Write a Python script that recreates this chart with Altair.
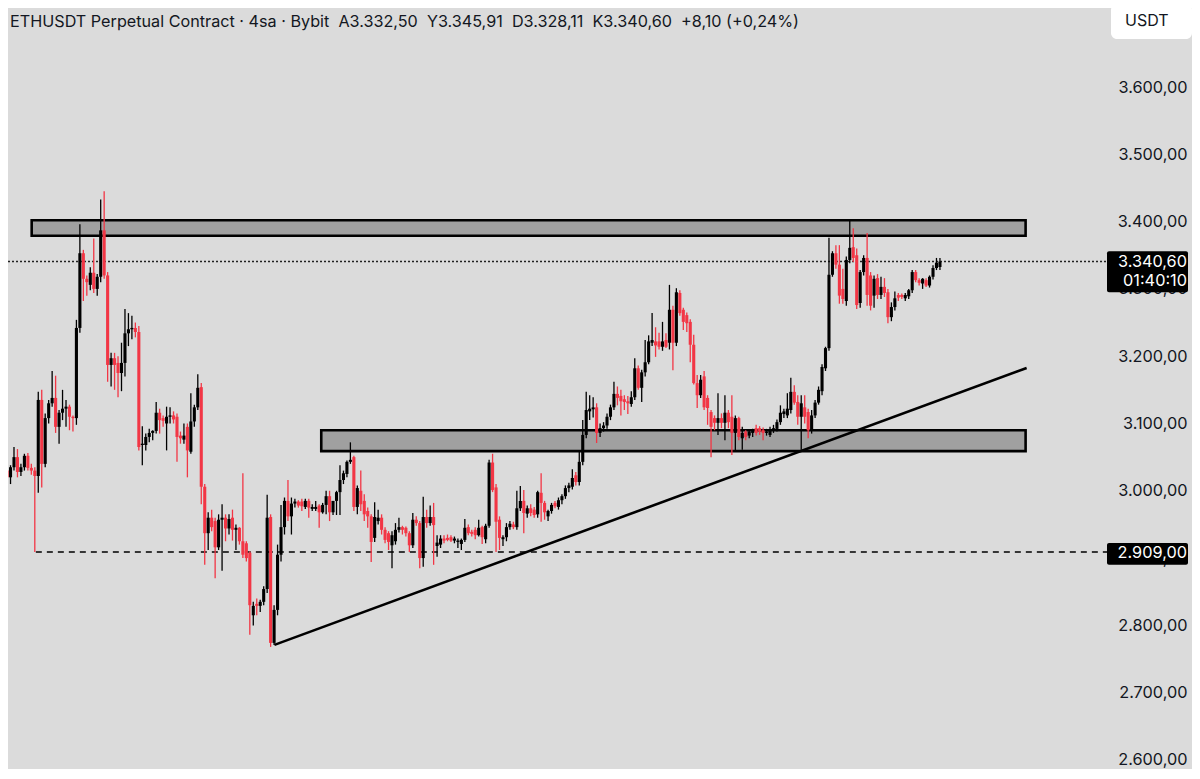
import altair as alt
import pandas as pd

# ---------------- data (4h candles, ETHUSDT) ----------------
open_ = [3030,3020,3035,3050,3028,3035,3052,3034,3030,3022,
         3135,3040,3108,3130,3138,3095,3116,3122,3125,3110,
         3108,3242,3353,3315,3306,3324,3300,3318,3387,3320,
         3187,3197,3190,3175,3190,3234,3240,3242,3236,3068,
         3068,3080,3086,3089,3116,3108,3100,3110,3112,3110,
         3082,3076,3095,3058,3103,3124,3154,3006,2937,2960,
         2955,2916,2957,2960,2944,2960,2942,2945,2925,2922,
         2908,2815,2832,2829,2835,2854,2961,2774,2823,2905,
         2946,2985,2962,2981,2984,2984,2976,2985,2974,2973,
         2978,2968,2979,2992,2968,2985,2998,3016,3025,3043,
         3050,2976,3000,2985,2970,2962,2930,2955,2960,2942,
         2937,2919,2925,2942,2946,2945,2937,2919,2957,2952,
         2900,2961,2952,2961,2918,2920,2929,2930,2931,2926,
         2924,2921,2927,2946,2939,2942,2934,2946,2928,2948,
         3042,3005,2957,2928,2931,2946,2950,2946,2974,2985,
         2966,2974,2972,2965,2997,2982,2962,2970,2982,2976,
         2986,2992,3004,3006,3023,3013,3043,3083,3118,3122,
         3124,3086,3093,3097,3110,3124,3144,3141,3136,3133,
         3129,3139,3182,3153,3176,3191,3220,3222,3222,3214,
         3224,3220,3269,3220,3294,3269,3261,3251,3217,3160,
         3142,3170,3138,3117,3108,3101,3108,3101,3116,3110,
         3086,3108,3078,3088,3082,3086,3093,3093,3090,3086,
         3083,3090,3092,3102,3114,3112,3120,3147,3132,3110,
         3124,3117,3090,3112,3131,3148,3182,3212,3321,3353,
         3336,3300,3282,3343,3362,3350,3279,3325,3346,3320,
         3290,3316,3291,3303,3295,3258,3273,3291,3291,3286,
         3289,3298,3325,3313,3308,3313,3305,3318,3331,3332.5]
high = [3040,3038,3065,3062,3040,3055,3056,3040,3035,3147,
        3150,3115,3135,3178,3171,3120,3150,3135,3128,3112,
        3254,3396,3358,3320,3332,3375,3322,3433,3445,3325,
        3205,3205,3200,3220,3270,3264,3260,3250,3245,3096,
        3085,3092,3090,3132,3122,3112,3125,3124,3118,3115,
        3088,3100,3100,3145,3128,3173,3160,3010,2968,2972,
        2960,2965,2980,2965,2965,2972,2950,2946,3026,2925,
        2910,2835,2840,2838,2858,2994,2965,2830,2920,2979,
        2990,3016,2990,2988,2986,2988,2988,2988,2980,2985,
        2980,2982,3000,3000,2985,3000,3038,3030,3045,3072,
        3052,3008,3030,2995,2975,2965,2983,2972,2965,2946,
        2940,2940,2952,2960,2948,2947,2940,2967,2962,2955,
        2991,2972,2978,2982,2934,2934,2934,2935,2934,2932,
        2929,2929,2958,2950,2942,2946,2957,2948,2951,3046,
        3055,3010,2962,2934,2952,2955,2954,3000,3007,3001,
        2978,2980,2976,3000,3026,2985,2972,2982,2985,2990,
        2995,3008,3012,3032,3028,3058,3105,3147,3142,3139,
        3130,3100,3102,3115,3128,3162,3155,3150,3142,3141,
        3148,3197,3186,3180,3224,3231,3264,3243,3235,3251,
        3234,3306,3275,3301,3298,3272,3265,3255,3232,3172,
        3172,3178,3142,3120,3112,3145,3115,3142,3120,3142,
        3112,3110,3095,3090,3090,3092,3098,3096,3094,3092,
        3095,3098,3106,3127,3122,3145,3168,3157,3142,3142,
        3142,3122,3120,3135,3155,3188,3214,3376,3356,3365,
        3365,3330,3348,3402,3390,3360,3328,3350,3383,3325,
        3320,3322,3318,3316,3300,3280,3296,3294,3293,3294,
        3300,3328,3328,3316,3316,3316,3320,3335,3346,3345.91]
low = [3015,3010,3030,3020,3022,3030,3030,3024,2909,2997,
       3005,3035,3100,3125,3086,3070,3105,3095,3090,3088,
       3098,3235,3282,3290,3298,3294,3290,3310,3315,3162,
       3155,3150,3139,3148,3170,3215,3225,3228,3060,3038,
       3060,3072,3075,3085,3085,3095,3060,3100,3100,3043,
       3070,3070,3020,3055,3095,3120,2980,2890,2912,2940,
       2870,2912,2881,2925,2935,2926,2912,2920,2900,2895,
       2786,2800,2815,2820,2830,2848,2768,2771,2815,2895,
       2935,2955,2935,2975,2975,2970,2973,2960,2970,2970,
       2945,2966,2965,2955,2964,2964,2964,3010,3020,3040,
       2970,2965,2970,2955,2945,2894,2924,2950,2935,2922,
       2912,2885,2920,2938,2935,2932,2909,2915,2948,2885,
       2887,2945,2948,2890,2902,2915,2922,2925,2924,2922,
       2915,2912,2924,2934,2932,2928,2932,2921,2922,2945,
       2998,2909,2912,2918,2925,2942,2943,2942,2970,2937,
       2960,2962,2960,2960,2954,2957,2955,2966,2974,2972,
       2980,2988,2998,3002,3008,3008,3038,3078,3105,3109,
       3071,3080,3088,3092,3105,3120,3127,3112,3120,3114,
       3125,3135,3150,3132,3170,3188,3215,3199,3210,3208,
       3212,3210,3179,3215,3260,3239,3236,3191,3158,3123,
       3138,3120,3098,3050,3090,3083,3093,3075,3093,3053,
       3058,3075,3061,3075,3078,3080,3082,3083,3075,3082,
       3080,3086,3088,3098,3108,3108,3115,3128,3098,3061,
       3100,3078,3085,3108,3128,3142,3178,3208,3318,3330,
       3278,3278,3275,3338,3340,3270,3272,3320,3275,3268,
       3272,3285,3285,3288,3249,3252,3268,3282,3285,3282,
       3285,3294,3310,3305,3300,3303,3302,3314,3328,3328.11]
close = [3020,3035,3050,3028,3035,3052,3034,3030,3022,3135,
         3040,3108,3130,3138,3095,3116,3122,3125,3110,3108,
         3242,3353,3315,3310,3324,3300,3318,3387,3320,3187,
         3197,3187,3175,3190,3234,3240,3242,3236,3065,3070,
         3080,3086,3089,3116,3105,3104,3110,3112,3106,3080,
         3078,3082,3060,3103,3124,3153,3006,2937,2960,2946,
         2916,2957,2960,2944,2958,2942,2945,2925,2905,2900,
         2830,2829,2829,2835,2854,2960,2774,2823,2905,2946,
         2985,2962,2981,2984,2978,2977,2985,2975,2975,2976,
         2968,2979,2992,2968,2985,2998,3016,3026,3043,3046,
         2976,3004,2980,2965,2962,2924,2961,2960,2942,2927,
         2924,2934,2942,2946,2942,2937,2919,2957,2952,2900,
         2961,2952,2961,2949,2923,2929,2926,2927,2926,2929,
         2926,2927,2945,2937,2936,2934,2945,2931,2948,3042,
         3001,2954,2930,2931,2946,2951,2946,2974,2985,2967,
         2974,2967,2964,2998,2982,2968,2970,2979,2977,2986,
         2992,3004,3008,3019,3013,3043,3083,3120,3122,3123,
         3086,3093,3097,3110,3124,3144,3138,3133,3132,3130,
         3139,3182,3153,3176,3191,3222,3224,3216,3214,3222,
         3214,3269,3220,3295,3264,3251,3249,3217,3160,3142,
         3165,3124,3123,3095,3101,3108,3101,3116,3102,3086,
         3108,3080,3086,3080,3088,3090,3086,3088,3086,3088,
         3090,3093,3102,3116,3118,3122,3147,3131,3110,3130,
         3110,3090,3112,3131,3150,3184,3212,3321,3353,3336,
         3290,3285,3343,3361,3346,3276,3325,3346,3291,3275,
         3315,3291,3303,3294,3258,3273,3286,3287,3288,3291,
         3298,3325,3313,3309,3315,3305,3318,3331,3339,3340.6]

# drawn annotations (in bar-index / price units)
zone_start = [7.1, 90.6]
zone_end = [293.7, 293.7]
zone_top = [3402, 3090]
zone_bottom = [3379, 3059]
trend_t = [77.1, 294.0]
trend_price = [2771, 3182.5]
support_start = 8.3
support_price = 2909.0
last_price = 3340.60
countdown = "01:40:10"
y_ticks = [2600, 2700, 2800, 2900, 3000, 3100, 3200, 3300, 3400, 3500, 3600]
header = ("ETHUSDT Perpetual Contract · 4sa · Bybit\u00a0\u00a0A3.332,50\u00a0\u00a0Y3.345,91"
          "\u00a0\u00a0D3.328,11\u00a0\u00a0K3.340,60\u00a0\u00a0+8,10 (+0,24%)")

# ---------------- tables ----------------
candles = pd.DataFrame({"t": list(range(len(close))), "open": open_, "high": high,
                        "low": low, "close": close})
zones = pd.DataFrame({"t0": zone_start, "t1": zone_end, "top": zone_top, "bottom": zone_bottom})
trend = pd.DataFrame({"t0": [trend_t[0]], "t1": [trend_t[1]],
                      "p0": [trend_price[0]], "p1": [trend_price[1]]})
support = pd.DataFrame({"t": [support_start], "price": [support_price],
                        "label": ["2.909,00"]})
last = pd.DataFrame({"price": [last_price], "label": ["3.340,60"], "timer": [countdown]})
hdr = pd.DataFrame({"text": [header]})
usdt = pd.DataFrame({"text": ["USDT"]})

W, H = 1092, 755
FONT = "Inter"
RED = "#f23645"
xs = alt.Scale(domain=[1.714, 313.71], nice=False, zero=False)
ys = alt.Scale(domain=[2595.5, 3717.4], nice=False, zero=False)
label_expr = ("replace(replace(replace(format(datum.value, ',.2f'), ',', '_'), '.', ','), '_', '.')")
yaxis = alt.Axis(values=y_ticks, labelExpr=label_expr, orient="right", title=None,
                 domain=False, ticks=False, grid=False, labelAlign="right",
                 labelPadding=87, labelFont=FONT, labelFontSize=16.3, labelColor="#131722",
                 labelOverlap=False, labelFlush=False)

color_cond = alt.condition("datum.close >= datum.open", alt.value("#000000"), alt.value(RED))

zone_layer = alt.Chart(zones).mark_rect(fill="#a0a0a0", stroke="#000000", strokeWidth=2.6).encode(
    x=alt.X("t0:Q", scale=xs, axis=None), x2="t1:Q",
    y=alt.Y("top:Q", scale=ys, axis=yaxis), y2="bottom:Q")

trend_layer = alt.Chart(trend).mark_rule(color="#000000", strokeWidth=2.6).encode(
    x=alt.X("t0:Q", scale=xs, axis=None), x2="t1:Q",
    y=alt.Y("p0:Q", scale=ys, axis=yaxis), y2="p1:Q")

support_layer = alt.Chart(support).mark_rule(color="#000000", strokeWidth=1.4,
                                             strokeDash=[6, 5]).encode(
    x=alt.X("t:Q", scale=xs, axis=None), x2=alt.value(W + 7),
    y=alt.Y("price:Q", scale=ys, axis=yaxis))

last_line = alt.Chart(last).mark_rule(color="#222222", strokeWidth=1.4,
                                      strokeDash=[2, 2]).encode(
    x=alt.value(0), x2=alt.value(W + 7),
    y=alt.Y("price:Q", scale=ys, axis=yaxis))

wicks = alt.Chart(candles).transform_calculate(
    hi="max(datum.high, datum.open, datum.close)",
    lo="min(datum.low, datum.open, datum.close)").mark_rule(strokeWidth=1.3).encode(
    x=alt.X("t:Q", scale=xs, axis=None),
    y=alt.Y("lo:Q", scale=ys, axis=yaxis), y2="hi:Q", color=color_cond)

bodies = alt.Chart(candles).transform_calculate(
    pad="abs(datum.open - datum.close) < 1.8 ? 0.9 : 0",
    btop="max(datum.open, datum.close) + datum.pad",
    bbot="min(datum.open, datum.close) - datum.pad").mark_bar(size=3.1).encode(
    x=alt.X("t:Q", scale=xs, axis=None),
    y=alt.Y("bbot:Q", scale=ys, axis=yaxis), y2="btop:Q", color=color_cond)

# price tags on the right-hand scale
last_box = alt.Chart(last).transform_calculate(
    top="datum.price + 15.5", bot="datum.price - 45.5").mark_rect(
    fill="#000000", cornerRadius=2).encode(
    x=alt.value(W + 7), x2=alt.value(W + 88),
    y=alt.Y("top:Q", scale=ys, axis=yaxis), y2="bot:Q")
last_txt = alt.Chart(last).mark_text(align="right", baseline="middle", font=FONT,
                                     fontSize=16.3, color="#ffffff").encode(
    x=alt.value(W + 87), y=alt.Y("price:Q", scale=ys, axis=yaxis), text="label:N")
timer_txt = alt.Chart(last).mark_text(align="right", baseline="middle", font=FONT,
                                      fontSize=16.3, color="#ffffff", dy=19).encode(
    x=alt.value(W + 87), y=alt.Y("price:Q", scale=ys, axis=yaxis), text="timer:N")
sup_box = alt.Chart(support).transform_calculate(
    top="datum.price + 13.5", bot="datum.price - 19").mark_rect(
    fill="#000000", cornerRadius=2).encode(
    x=alt.value(W + 7), x2=alt.value(W + 88),
    y=alt.Y("top:Q", scale=ys, axis=yaxis), y2="bot:Q")
sup_txt = alt.Chart(support).mark_text(align="right", baseline="middle", font=FONT,
                                       fontSize=16.3, color="#ffffff", dy=1).encode(
    x=alt.value(W + 87), y=alt.Y("price:Q", scale=ys, axis=yaxis), text="label:N")

usdt_box = alt.Chart(usdt).mark_rect(fill="#ffffff", cornerRadius=6).encode(
    x=alt.value(W + 11), x2=alt.value(W + 92), y=alt.value(-4), y2=alt.value(31))
usdt_txt = alt.Chart(usdt).mark_text(align="left", baseline="middle", font=FONT,
                                     fontSize=16, color="#131722").encode(
    x=alt.value(W + 25), y=alt.value(13), text="text:N")

hdr_txt = alt.Chart(hdr).mark_text(align="left", baseline="middle", font=FONT,
                                   fontSize=16.2, color="#131722").encode(
    x=alt.value(2), y=alt.value(14), text="text:N")

chart = alt.layer(
    zone_layer, trend_layer, support_layer, last_line, wicks, bodies,
    last_box, last_txt, timer_txt, sup_box, sup_txt, usdt_box, usdt_txt, hdr_txt
).properties(
    width=W, height=H,
    autosize=alt.AutoSizeParams(type="none"),
    padding={"left": 0, "top": 0, "right": 92, "bottom": 6},
    background="#dbdbdb",
).configure_view(stroke=None)

chart.save("out.html", embed_options={"renderer": "svg", "actions": False})
